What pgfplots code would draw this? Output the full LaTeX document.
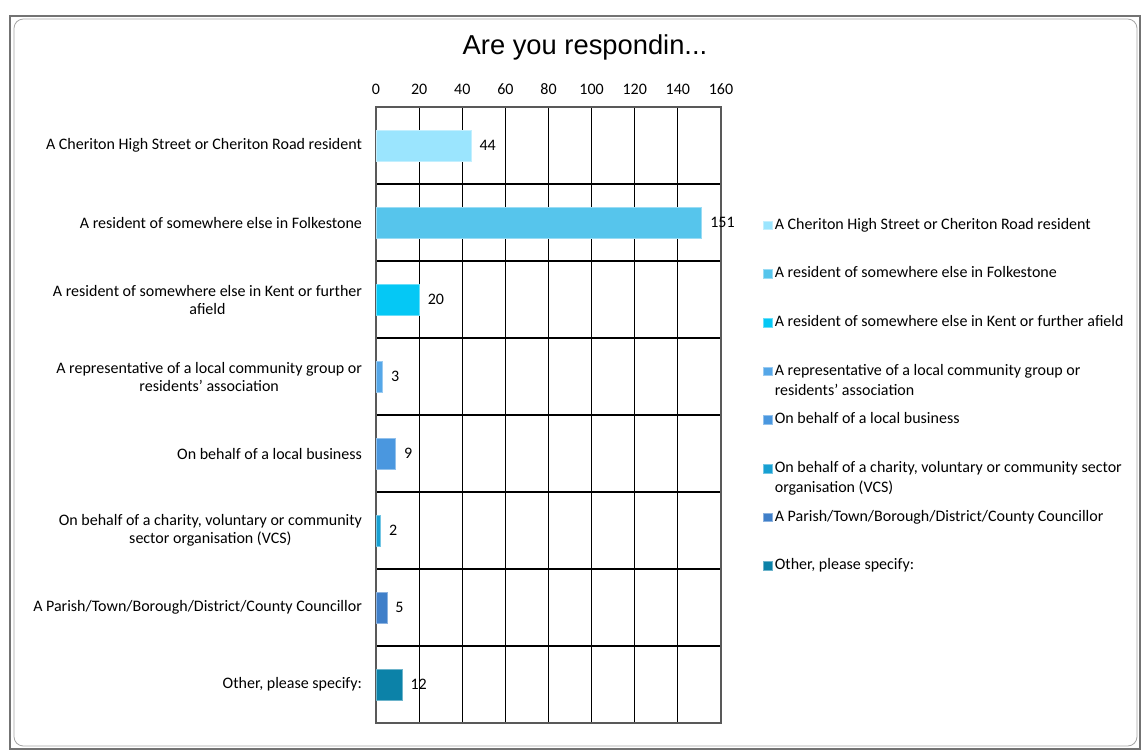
\documentclass[border=0pt]{standalone}
\usepackage{fontspec}
\setmainfont{Carlito}
\newfontfamily\titlefont{Liberation Sans}
\usepackage{pgfplots}
\pgfplotsset{compat=1.18}
\definecolor{c1}{HTML}{9BE5FE}
\definecolor{c2}{HTML}{56C5EC}
\definecolor{c3}{HTML}{05C8F5}
\definecolor{c4}{HTML}{55A7E8}
\definecolor{c5}{HTML}{4A97DF}
\definecolor{c6}{HTML}{17A0D2}
\definecolor{c7}{HTML}{3F7FC9}
\definecolor{c8}{HTML}{0C82A8}
\newcommand{\lentry}[1]{\parbox[t]{272pt}{\raggedright #1}}
\begin{document}
\begin{tikzpicture}[x=0.75pt,y=-0.75pt]
\useasboundingbox (0,0) rectangle (1144,753);
\fill[white] (0,0) rectangle (1144,753);
\draw[black!55, line width=1.5pt] (10,16) rectangle (1140,749);
\draw[black!35, line width=0.6pt, rounded corners=7pt] (14,19) rectangle (1137,746);
\node[font=\titlefont\fontsize{20.5}{24}\selectfont, text=black] at (585,47) {Are you respondin...};
\begin{axis}[
  at={(282pt,-80.25pt)}, anchor=north west,
  scale only axis, width=258.75pt, height=462pt,
  xbar, bar width=0.4, bar shift=0pt,
  xmin=0, xmax=160, xtick={0,20,...,160}, xticklabel pos=top,
  xmajorgrids, major grid style={black, line width=0.8pt},
  ymin=-0.5, ymax=7.5, y dir=reverse,
  ytick={0,...,7},
  yticklabels={
    {A Cheriton High Street or Cheriton Road resident},
    {A resident of somewhere else in Folkestone},
    {A resident of somewhere else in Kent or further\\afield},
    {A representative of a local community group or\\residents’ association},
    {On behalf of a local business},
    {On behalf of a charity, voluntary or community\\sector organisation (VCS)},
    {A Parish/Town/Borough/District/County Councillor},
    {Other, please specify:}},
  minor ytick={0.5,1.5,...,6.5}, yminorgrids, minor grid style={black, line width=0.8pt},
  major tick length=0pt, minor tick length=0pt,
  axis line style={black!65, line width=1pt},
  tick label style={font=\fontsize{12}{13.5}\selectfont},
  yticklabel style={align=center, xshift=-7pt},
  xticklabel style={yshift=6pt},
  /pgf/number format/assume math mode=true,
  nodes near coords,
  nodes near coords style={font=\fontsize{12}{13.5}\selectfont, xshift=3pt, text=black},
  legend style={at={(1.11,0.829)}, anchor=north west, draw=none, fill=none,
    font=\fontsize{12}{15}\selectfont, row sep={36.5pt,between origins},
    cells={anchor=base west}},
  legend image code/.code={\fill[#1] (0pt,-0.3pt) rectangle (6.3pt,6pt);},
]
\addplot[fill=c1, draw=c1!60!white] coordinates {(44,0)};
\addplot[fill=c2, draw=c2!60!white] coordinates {(151,1)};
\addplot[fill=c3, draw=c3!60!white] coordinates {(20,2)};
\addplot[fill=c4, draw=c4!60!white] coordinates {(3,3)};
\addplot[fill=c5, draw=c5!60!white] coordinates {(9,4)};
\addplot[fill=c6, draw=c6!60!white] coordinates {(2,5)};
\addplot[fill=c7, draw=c7!60!white] coordinates {(5,6)};
\addplot[fill=c8, draw=c8!60!white] coordinates {(12,7)};
\addlegendentry{\lentry{A Cheriton High Street or Cheriton Road resident}}
\addlegendentry{\lentry{A resident of somewhere else in Folkestone}}
\addlegendentry{\lentry{A resident of somewhere else in Kent or further afield}}
\addlegendentry{\lentry{A representative of a local community group or\newline residents’ association}}
\addlegendentry{\lentry{On behalf of a local business}}
\addlegendentry{\lentry{On behalf of a charity, voluntary or community sector\newline organisation (VCS)}}
\addlegendentry{\lentry{A Parish/Town/Borough/District/County Councillor}}
\addlegendentry{\lentry{Other, please specify:}}
\end{axis}
\end{tikzpicture}
\end{document}
